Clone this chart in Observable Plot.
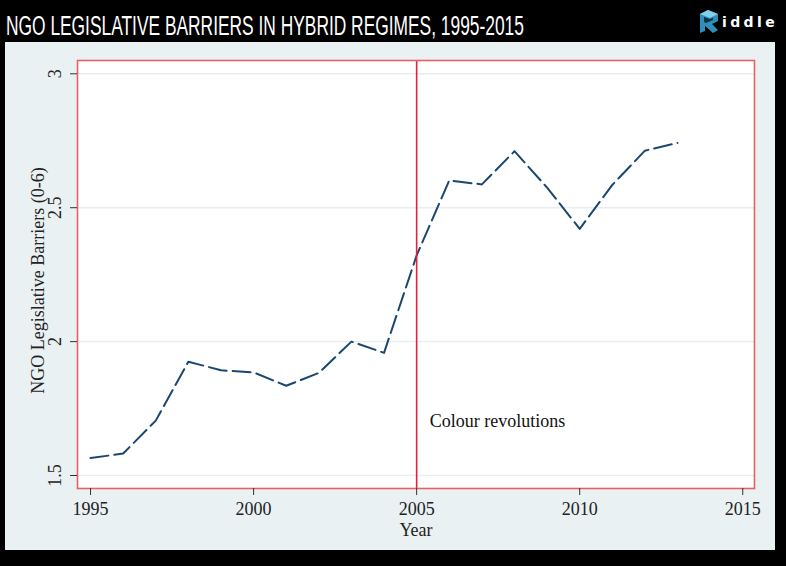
<!DOCTYPE html>
<html>
<head>
<meta charset="utf-8">
<script src="https://cdn.jsdelivr.net/npm/d3@7"></script>
<script src="https://cdn.jsdelivr.net/npm/@observablehq/plot@0.6"></script>
<style>
  html, body { margin: 0; padding: 0; background: #000; }
  #wrap { position: relative; width: 786px; height: 566px; background: #000; overflow: hidden; }
  #head { position: absolute; left: 0; top: 0; width: 786px; height: 42px; }
  #panel { position: absolute; left: 5px; top: 42px; width: 770px; height: 508px; background: #eaf1f3; }
</style>
</head>
<body>
<div id="wrap">
  <svg id="head" width="786" height="42">
    <text id="title" x="0" y="0" transform="translate(6,35) scale(0.67,1)" fill="#fff" font-family="'Liberation Sans Narrow','Liberation Sans',sans-serif" font-size="27">NGO LEGISLATIVE BARRIERS IN HYBRID REGIMES, 1995-2015</text>
    <g>
      <polygon points="700,14 708,10 718,14 718,21 712,24 718,30 713,33 705,26 705,31 700,33" fill="#2f8fb8"/>
      <polygon points="700,14 708,10 718,14 710,18" fill="#7fd0ea"/>
      <polygon points="704,17 710,19 713,17.5 713,20 706,23 704,22" fill="#0d3347"/>
      <text x="722" y="27" fill="#fff" font-family="'DejaVu Sans',sans-serif" font-weight="bold" font-size="14" letter-spacing="3.4">iddle</text>
    </g>
  </svg>
  <div id="panel"></div>
</div>
<script>
const years = [1995,1996,1997,1998,1999,2000,2001,2002,2003,2004,2005,2006,2007,2008,2009,2010,2011,2012,2013];
const barriers = [1.565,1.582,1.705,1.925,1.893,1.885,1.835,1.883,2.0,1.958,2.322,2.602,2.587,2.711,2.575,2.421,2.585,2.713,2.742];
const xTicks = [1995,2000,2005,2010,2015];
const yTicks = [1.5,2,2.5,3];
const eventYear = [2005];
const eventLabel = ["Colour revolutions"];
const eventLabelY = [1.703];
const xTitle = ["Year"];
const yTitle = ["NGO Legislative Barriers (0-6)"];

// fit the condensed title to the width it has in the reference
(function () {
  const t = document.getElementById("title");
  const w = t.getComputedTextLength();
  if (w > 0) t.setAttribute("transform", `translate(6,35) scale(${(518 / w).toFixed(4)},1)`);
})();

const data = years.map((y, i) => ({year: y, value: barriers[i]}));

const chart = Plot.plot({
  width: 770,
  height: 508,
  marginLeft: 72,
  marginRight: 21,
  marginTop: 18,
  marginBottom: 62,
  style: {background: "transparent", fontFamily: "'Liberation Serif','Times New Roman',serif", fontSize: "18px", color: "#222"},
  x: {domain: [1994.6, 2015.36]},
  y: {domain: [1.4515, 3.0497]},
  marks: [
    Plot.frame({fill: "white", stroke: null}),
    Plot.gridY({ticks: yTicks, stroke: "#e6eef1", strokeOpacity: 1, strokeWidth: 1.5}),
    Plot.line(data, {x: "year", y: "value", stroke: "#1a476f", strokeWidth: 2, strokeDasharray: "18,6"}),
    Plot.ruleX(eventYear, {stroke: "#e0223d", strokeWidth: 1.6}),
    Plot.frame({stroke: "#e8615f", strokeWidth: 1.6}),
    Plot.axisX({ticks: xTicks, tickSize: 7, tickPadding: 7, tickFormat: d => String(d), label: null, fontSize: 18, stroke: "#333"}),
    Plot.axisY({ticks: yTicks, tickSize: 7, tickFormat: () => "", label: null, stroke: "#333"}),
    Plot.text(yTicks, {y: d => d, text: d => String(d), frameAnchor: "left", dx: -22, rotate: -90, textAnchor: "middle", lineAnchor: "middle", fontSize: 18, fill: "#222"}),
    Plot.text(eventLabel, {x: eventYear, y: eventLabelY, text: d => d, dx: 13, textAnchor: "start", lineAnchor: "middle", fontSize: 18, fill: "#111"}),
    Plot.text(xTitle, {frameAnchor: "bottom", dy: 42, text: d => d, lineAnchor: "middle", fontSize: 18, fill: "#222"}),
    Plot.text(yTitle, {frameAnchor: "left", dx: -39, dy: 6, rotate: -90, text: d => d, textAnchor: "middle", lineAnchor: "middle", fontSize: 18, fill: "#222"})
  ]
});
document.getElementById("panel").appendChild(chart);
</script>
</body>
</html>
